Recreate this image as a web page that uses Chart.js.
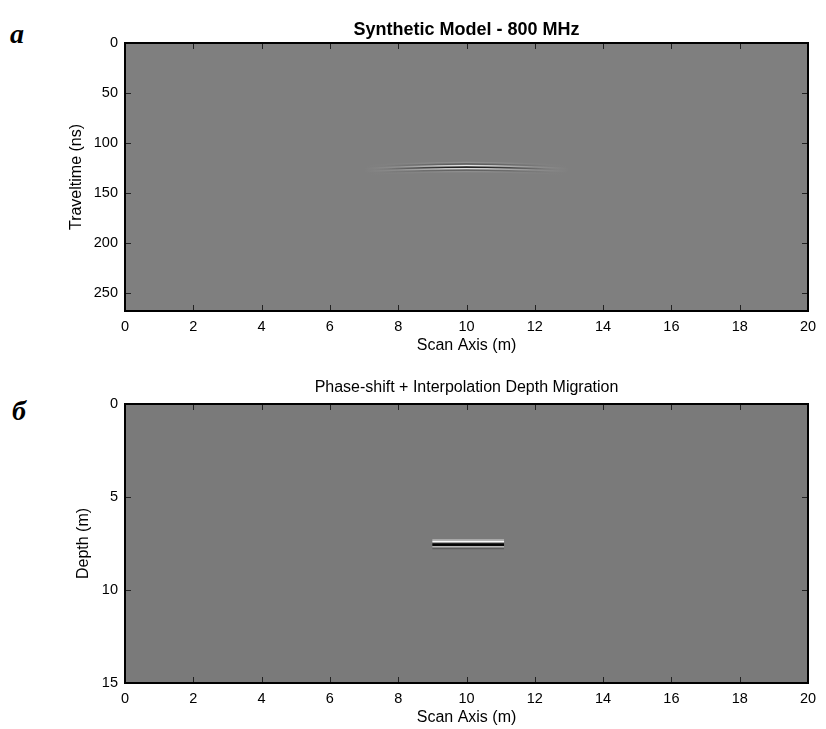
<!DOCTYPE html>
<html>
<head>
<meta charset="utf-8">
<script src="https://cdn.jsdelivr.net/npm/chart.js@4.4.1/dist/chart.umd.min.js"></script>
<style>
  html, body { margin: 0; padding: 0; background: #fff; }
  body { width: 826px; height: 729px; position: relative; overflow: hidden; }
  .panel { position: absolute; left: 0; width: 826px; }
  #top { top: 0; height: 365px; }
  #bottom { top: 365px; height: 364px; }
  .tag {
    position: absolute;
    font-family: "Liberation Serif", "Times New Roman", serif;
    font-weight: bold; font-style: italic; font-size: 28px; line-height: 1;
  }
</style>
</head>
<body>
<div class="tag" style="left:10px; top:20px;">a</div>
<div class="tag" style="left:12px; top:397px;">б</div>
<div class="panel" id="top"><canvas id="topChart" width="826" height="365"></canvas></div>
<div class="panel" id="bottom"><canvas id="bottomChart" width="826" height="364"></canvas></div>

<script>
// --- raw radargram: diffraction from the buried target ---
var scanX = [7, 8, 9, 10, 11, 12, 13];                 // m
var hyperTime = [127, 125.5, 124.5, 124, 124.5, 125.5, 127]; // ns, zero-phase line of the event
var hyperAmp = [0, 0.15, 0.55, 1, 0.55, 0.15, 0];      // relative strength along the scan
var stripeLag = [-4.5, -3, -1.5, 0, 1.5, 3, 4.5];      // ns, wavelet lobes
var stripeAmp = [0.15, -0.35, 0.85, -1, 0.75, -0.3, 0.12];

// --- migrated section: collapsed reflector ---
var migX = [9.0, 11.1];                                // m
var migDepth = [7.31, 7.40, 7.49, 7.58, 7.67, 7.76];   // m
var migAmp = [0.35, 0.95, -0.7, -0.95, 0.45, -0.25];

var FONT = '"Liberation Sans", Arial, Helvetica, sans-serif';

function ampColor(a, k) {
	var alpha = Math.min(1, Math.abs(a) * k);
	return a >= 0 ? "rgba(255,255,255," + alpha + ")" : "rgba(0,0,0," + alpha + ")";
}

// gray image background, box and inward ticks like the old plotting tool
var axesBox = {
	id: "axesBox",
	beforeDatasetsDraw: function (chart, args, opts) {
		var a = chart.chartArea;
		var ctx = chart.ctx;
		ctx.save();
		ctx.fillStyle = opts.background;
		ctx.fillRect(a.left, a.top, a.width, a.height);
		ctx.restore();
	},
	afterDraw: function (chart, args, opts) {
		var a = chart.chartArea;
		var ctx = chart.ctx;
		var sx = chart.scales.x;
		var sy = chart.scales.y;
		ctx.save();
		ctx.strokeStyle = "#222";
		ctx.lineWidth = 1;
		ctx.beginPath();
		sx.ticks.forEach(function (t) {
			var px = Math.round(sx.getPixelForValue(t.value)) + 0.5;
			ctx.moveTo(px, a.bottom);
			ctx.lineTo(px, a.bottom - 6);
			ctx.moveTo(px, a.top);
			ctx.lineTo(px, a.top + 6);
		});
		sy.ticks.forEach(function (t) {
			var py = Math.round(sy.getPixelForValue(t.value)) + 0.5;
			ctx.moveTo(a.left, py);
			ctx.lineTo(a.left + 6, py);
			ctx.moveTo(a.right, py);
			ctx.lineTo(a.right - 6, py);
		});
		ctx.stroke();
		ctx.strokeStyle = "#000";
		ctx.lineWidth = 2;
		ctx.strokeRect(a.left, a.top, a.width, a.height);

		ctx.fillStyle = "#000";
		ctx.font = opts.titleFont;
		ctx.textAlign = "center";
		ctx.textBaseline = "middle";
		ctx.fillText(opts.title, (a.left + a.right) / 2, opts.titleY);
		ctx.restore();
	},
};

function axisOptions(cfg) {
	return {
		x: {
			type: "linear",
			min: 0,
			max: 20,
			ticks: { stepSize: 2, padding: 7, color: "#000", font: { family: FONT, size: 14.5 } },
			grid: { drawOnChartArea: false, drawTicks: false },
			border: { display: false },
			title: { display: true, text: "Scan Axis (m)", color: "#000", padding: 0, font: { family: FONT, size: 16 } },
			afterFit: function (scale) { scale.height = cfg.xHeight; },
		},
		y: {
			type: "linear",
			reverse: true,
			min: 0,
			max: cfg.yMax,
			ticks: { stepSize: cfg.yStep, padding: 7, color: "#000", font: { family: FONT, size: 14.5 } },
			afterBuildTicks: function (scale) {
				scale.ticks = scale.ticks.filter(function (t) { return t.value % cfg.yStep === 0; });
			},
			grid: { drawOnChartArea: false, drawTicks: false },
			border: { display: false },
			title: { display: true, text: cfg.yTitle, color: "#000", padding: 0, font: { family: FONT, size: 16 } },
			afterFit: function (scale) { scale.width = cfg.yWidth; },
		},
	};
}

// top panel: one line per wavelet lobe following the diffraction curve
var topDatasets = stripeLag.map(function (lag, k) {
	return {
		data: scanX.map(function (x, i) { return { x: x, y: hyperTime[i] + lag }; }),
		borderWidth: 1.6,
		pointRadius: 0,
		tension: 0.4,
		borderColor: function (context) {
			var chart = context.chart;
			if (!chart.chartArea) return "rgba(0,0,0,0)";
			var sx = chart.scales.x;
			var x0 = sx.getPixelForValue(scanX[0]);
			var x1 = sx.getPixelForValue(scanX[scanX.length - 1]);
			var g = chart.ctx.createLinearGradient(x0, 0, x1, 0);
			scanX.forEach(function (x, i) {
				g.addColorStop((x - scanX[0]) / (scanX[scanX.length - 1] - scanX[0]), ampColor(stripeAmp[k] * hyperAmp[i], 1));
			});
			return g;
		},
	};
});

// bottom panel: flat migrated reflector
var bottomDatasets = migDepth.map(function (d, k) {
	return {
		data: migX.map(function (x) { return { x: x, y: d }; }),
		borderWidth: 1.8,
		pointRadius: 0,
		borderCapStyle: "butt",
		borderColor: ampColor(migAmp[k], 1),
	};
});

new Chart(document.getElementById("topChart"), {
	type: "line",
	data: { datasets: topDatasets },
	options: {
		responsive: false,
		animation: false,
		layout: { padding: { top: 43, right: 18, left: 67, bottom: 10 } },
		plugins: {
			legend: { display: false },
			tooltip: { enabled: false },
			axesBox: { background: "rgb(127,127,127)", title: "Synthetic Model - 800 MHz", titleFont: "bold 18px " + FONT, titleY: 30 },
		},
		scales: axisOptions({ yMax: 268, yStep: 50, yTitle: "Traveltime (ns)", yWidth: 58, xHeight: 44 }),
	},
	plugins: [axesBox],
});

new Chart(document.getElementById("bottomChart"), {
	type: "line",
	data: { datasets: bottomDatasets },
	options: {
		responsive: false,
		animation: false,
		layout: { padding: { top: 39, right: 18, left: 74, bottom: 2 } },
		plugins: {
			legend: { display: false },
			tooltip: { enabled: false },
			axesBox: { background: "rgb(122,122,122)", title: "Phase-shift + Interpolation Depth Migration", titleFont: "16px " + FONT, titleY: 23 },
		},
		scales: axisOptions({ yMax: 15, yStep: 5, yTitle: "Depth (m)", yWidth: 51, xHeight: 44 }),
	},
	plugins: [axesBox],
});
</script>
</body>
</html>
